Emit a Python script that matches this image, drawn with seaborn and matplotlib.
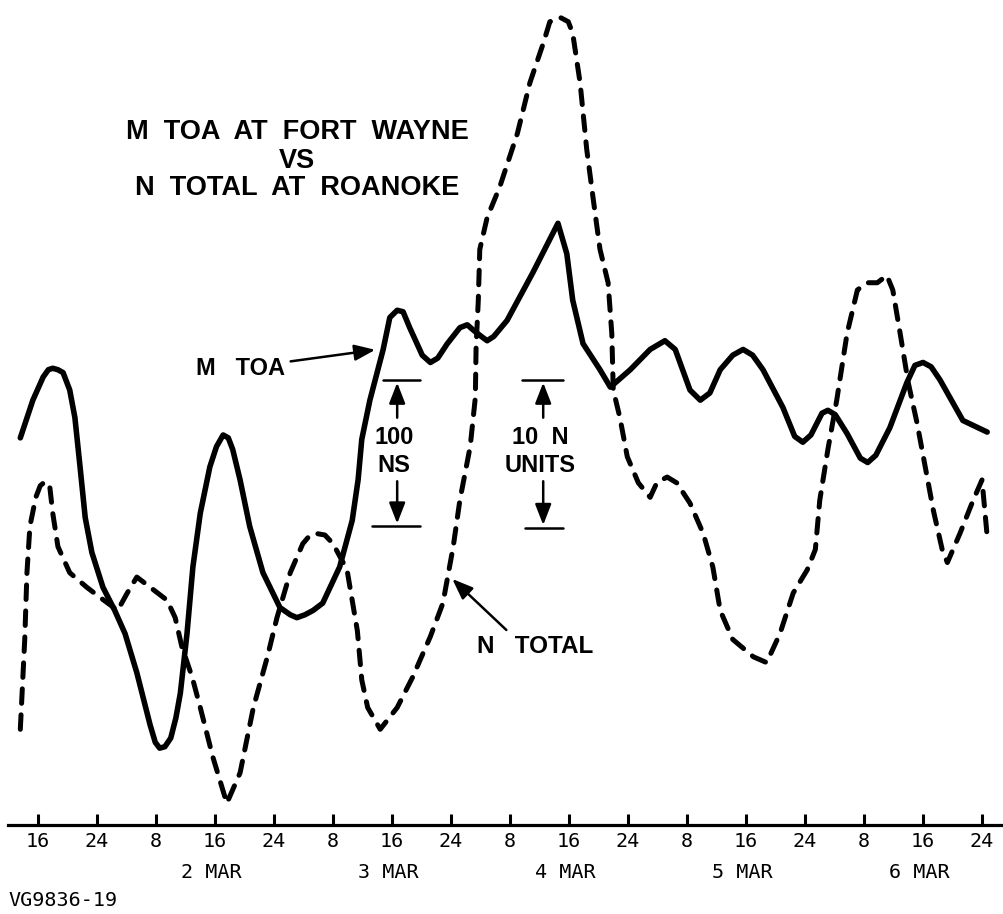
import numpy as np
import pandas as pd
import seaborn as sns
import matplotlib
matplotlib.use("Agg")
import matplotlib.pyplot as plt
from matplotlib import font_manager
from matplotlib.transforms import blended_transform_factory

# ---------------- data (hours counted from 1 MAR 00:00) ----------------
mtoa_hours = [13.6, 15.3, 16.7, 17.4, 18.0, 18.7, 19.4, 20.3, 21.0, 21.7, 22.4, 23.3,
              24.8, 26.4, 27.8, 29.4, 31.2, 31.9, 32.5, 33.2, 34.0, 34.7, 35.3,
              36.2, 37.0, 38.0, 39.3, 40.2, 41.1, 41.8, 42.4, 43.4, 44.7, 46.5,
              48.8, 50.2, 51.1, 52.2, 53.3, 54.6, 56.9, 58.6, 59.4, 59.9, 61.0,
              62.8, 63.7, 64.7, 65.5, 66.4, 68.1, 69.2, 70.2, 71.5, 73.2, 74.2,
              75.1, 76.1, 76.9, 77.8, 79.6, 83.1, 86.5, 87.7, 88.5, 89.9, 92.2,
              93.6, 96.3, 99.0, 101.0, 102.4, 104.4, 105.8, 107.1, 108.5, 110.2,
              111.6, 112.9, 114.3, 117.0, 118.6, 119.7, 120.8, 122.3, 123.1, 124.1,
              125.7, 127.5, 128.5, 129.6, 131.5, 133.8, 134.9, 136.0, 137.1, 138.3,
              141.4, 144.7]
mtoa_ns = [267, 293, 309, 314, 315, 314, 312, 300, 281, 247, 212, 188,
           164, 148, 132, 105, 69, 57, 53, 54, 60, 74, 91,
           132, 178, 215, 247, 261, 269, 267, 259, 238, 206, 174,
           150, 145, 143, 145, 148, 153, 178, 210, 238, 266, 293,
           328, 350, 355, 354, 343, 324, 319, 322, 332, 343, 345,
           341, 337, 334, 337, 348, 381, 415, 394, 362, 332, 314,
           302, 314, 328, 334, 328, 300, 293, 298, 314, 324,
           328, 324, 314, 288, 268, 264, 269, 284, 286, 283,
           270, 253, 250, 255, 274, 305, 317, 319, 316, 307,
           279, 271]

ntot_hours = [13.6, 14.2, 14.5, 14.9, 15.7, 16.3, 17.0, 17.6, 18.0, 18.7, 20.3, 22.6,
              24.4, 26.8, 28.1, 29.4, 31.2, 33.5, 34.6, 35.5, 36.9, 38.0,
              39.7, 41.6, 43.4, 45.2, 47.1, 48.4, 50.2, 51.9, 52.9, 53.8, 54.9, 56.0,
              57.9, 59.3, 59.9, 60.7, 62.4, 64.7, 66.8, 69.2, 70.9, 72.3,
              73.2, 74.6, 75.3, 75.4, 75.7, 75.9, 76.9, 78.6, 81.0, 82.7,
              84.5, 85.4, 86.8, 87.9, 88.5, 89.5, 90.4, 91.3, 92.2, 93.3, 93.8, 94.0,
              94.9, 95.9, 97.4, 99.0, 99.9, 101.3, 102.6, 104.4, 106.2, 107.5,
              108.5, 110.2, 113.0, 114.8, 116.6, 118.4, 120.3, 121.4, 122.0, 123.1,
              124.3, 125.7, 127.1, 128.4, 129.8, 131.1, 131.9, 132.9, 134.0, 135.2,
              136.3, 137.4, 138.6, 139.3, 141.0, 142.8, 144.0, 144.7]
ntot_units = [6.6, 12.8, 17.4, 20.6, 22.6, 23.4, 23.7, 23.3, 21.5, 19.2, 17.4, 16.4,
              15.7, 14.8, 16.0, 17.1, 16.4, 15.5, 14.3, 12.3, 10.2, 8.1,
              4.7, 1.5, 3.6, 8.1, 11.6, 14.3, 17.4, 19.4, 20.0, 20.1, 20.0, 19.4,
              17.6, 13.4, 10.0, 8.1, 6.6, 8.1, 10.2, 13.0, 15.3, 19.2,
              22.4, 26.1, 29.5, 33.0, 36.2, 39.7, 41.9, 44.0, 47.7, 51.2,
              53.9, 55.4, 55.7, 55.4, 54.6, 51.2, 46.6, 43.1, 39.7, 37.4, 33.9, 30.0,
              28.1, 25.4, 23.6, 22.6, 23.6, 24.0, 23.6, 22.2, 20.1, 17.8,
              14.8, 12.8, 11.6, 11.2, 13.2, 16.0, 17.6, 19.0, 22.4, 25.9,
              29.3, 33.9, 36.9, 37.4, 37.4, 37.9, 36.9, 33.9, 30.5, 27.7,
              24.7, 21.7, 19.0, 18.1, 20.1, 22.4, 23.8, 19.9]

NS_PER_N_UNIT = 10  # scale: 100 NS  <->  10 N UNITS

tick_hours = [16, 24, 32, 40, 48, 56, 64, 72, 80, 88, 96, 104, 112, 120, 128, 136, 144]
tick_labels = ["16", "24", "8", "16", "24", "8", "16", "24", "8",
               "16", "24", "8", "16", "24", "8", "16", "24"]
day_hours = [40, 64, 88, 112, 136]
day_labels = ["2 MAR", "3 MAR", "4 MAR", "5 MAR", "6 MAR"]

title_lines = ["M  TOA  AT  FORT  WAYNE", "VS", "N  TOTAL  AT  ROANOKE"]

# ---------------- figure ----------------
sns.set_style("white")
plt.rcParams["font.family"] = ["Liberation Sans", "DejaVu Sans"]
plt.rcParams["text.color"] = "black"
plt.rcParams["xtick.color"] = "black"

# locate a true (non-narrow) bold Helvetica-like face
bold_path = None
for p in font_manager.findSystemFonts():
    if p.endswith("LiberationSans-Bold.ttf"):
        bold_path = p
        break
if bold_path:
    BOLD = font_manager.FontProperties(fname=bold_path)
else:
    BOLD = font_manager.FontProperties(family="DejaVu Sans", weight="bold")


def bold(size):
    fp = BOLD.copy()
    fp.set_size(size)
    return fp


W, H = 1004, 914
fig = plt.figure(figsize=(W / 100, H / 100), dpi=100)
ax = fig.add_axes([8 / W, 89 / H, (W - 8) / W, 825 / H])

df_m = pd.DataFrame({"hour": mtoa_hours, "value": mtoa_ns})
df_n = pd.DataFrame({"hour": ntot_hours,
                     "value": np.array(ntot_units) * NS_PER_N_UNIT})

sns.lineplot(data=df_m, x="hour", y="value", ax=ax, color="black",
             linewidth=4.0, sort=False, estimator=None)
sns.lineplot(data=df_n, x="hour", y="value", ax=ax, color="black",
             linewidth=3.6, sort=False, estimator=None)
l_m, l_n = ax.lines[0], ax.lines[1]
for ln in (l_m, l_n):
    ln.set_solid_capstyle("round")
    ln.set_solid_joinstyle("round")
    ln.set_dash_capstyle("round")
    ln.set_dash_joinstyle("round")
l_n.set_dashes((2.9, 2.3))

ax.set_xlim(11.93, 146.98)
ax.set_ylim(0, 569)
ax.set_xlabel("")
ax.set_ylabel("")
ax.set_yticks([])
for s in ("left", "right", "top"):
    ax.spines[s].set_visible(False)
ax.spines["bottom"].set_linewidth(2.3)
ax.spines["bottom"].set_color("black")

ax.set_xticks(tick_hours)
ax.set_xticklabels(tick_labels, family="DejaVu Sans Mono", fontsize=14.5)
ax.tick_params(axis="x", direction="in", length=8, width=2.2, pad=5,
               colors="black", bottom=True)

trans = blended_transform_factory(ax.transData, fig.transFigure)
for h, lab in zip(day_hours, day_labels):
    ax.text(h - 0.5, 1 - 873 / H, lab, transform=trans, ha="center",
            va="center", family="DejaVu Sans Mono", fontsize=14.5)
fig.text(8 / W, 1 - 900 / H, "VG9836-19", ha="left", va="center",
         family="DejaVu Sans Mono", fontsize=14.5)

# title
for yy, line in zip([132, 161, 188], title_lines):
    fig.text(297 / W, 1 - yy / H, line, ha="center", va="center",
             fontproperties=bold(19.5))

# labels with arrows
arrow_kw = dict(arrowstyle="-|>,head_length=0.9,head_width=0.35",
                color="black", lw=1.8, mutation_scale=14)
ax.annotate("M   TOA", xy=(62.1, 328), xytext=(43.4, 315),
            fontproperties=bold(17), ha="center", va="center",
            arrowprops=arrow_kw)
ax.annotate("N   TOTAL", xy=(71.9, 171), xytext=(83.4, 123),
            fontproperties=bold(17.5), ha="center", va="center",
            arrowprops=dict(arrow_kw, relpos=(0.3, 1.0)))


# scale bars
def scale_bar(xc, top, bot, x_top, x_bot, lines, ys):
    ax.plot(x_top, [top, top], color="black", lw=1.8)
    ax.plot(x_bot, [bot, bot], color="black", lw=1.8)
    ax.annotate("", xy=(xc, top), xytext=(xc, ys[0] + 12), arrowprops=arrow_kw)
    ax.annotate("", xy=(xc, bot), xytext=(xc, ys[1] - 9), arrowprops=arrow_kw)
    for yy, t in zip(ys, lines):
        ax.text(xc - 0.4, yy, t, fontproperties=bold(17),
                ha="center", va="center")


scale_bar(64.7, 307, 206, [62.8, 67.8], [61.3, 67.8], ["100", "NS"], [267, 248])
scale_bar(84.5, 307, 205, [81.6, 87.2], [82.0, 87.2], ["10  N", "UNITS"], [267, 248])

fig.savefig("out.png", dpi=100, facecolor="white")
